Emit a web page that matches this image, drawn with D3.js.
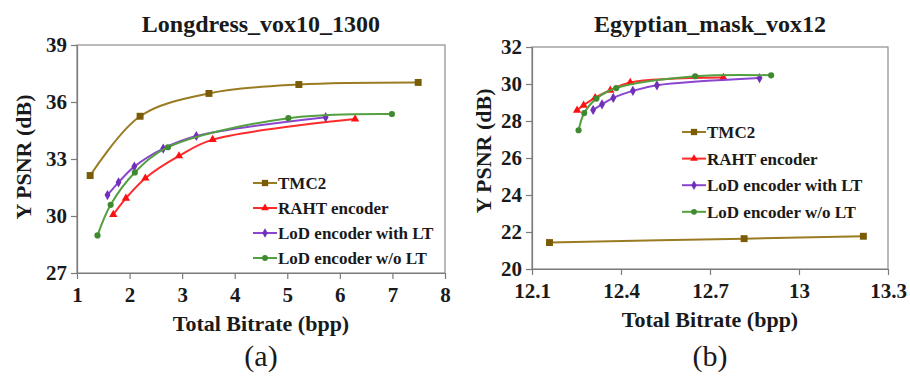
<!DOCTYPE html>
<html>
<head>
<meta charset="utf-8">
<script src="https://cdn.jsdelivr.net/npm/d3@7"></script>
<style>
	body { margin: 0; background: #fff; }
</style>
</head>
<body>
<div id="chart"></div>
<script>
const FONT = "'Liberation Serif', 'DejaVu Serif', 'Times New Roman', Tinos, serif";
const SERIES = ["TMC2", "RAHT encoder", "LoD encoder with LT", "LoD encoder w/o LT"];
const LINE_COLORS = ["#9a7b22", "#ff2a2a", "#8a46d0", "#54a040"];
const MARK_COLORS = ["#7a5c06", "#ff1010", "#7030b8", "#3f8a30"];
const SYMBOLS = [d3.symbolSquare, d3.symbolTriangle, d3.symbolDiamond, d3.symbolCircle];

// (a) Longdress_vox10_1300
const LONG_TMC2 = [[1.25, 32.13], [2.20, 35.25], [3.51, 36.45], [5.22, 36.92], [7.49, 37.03]];
const LONG_RAHT = [[1.69, 30.08], [1.93, 30.93], [2.30, 31.99], [2.94, 33.16], [3.58, 34.02], [6.29, 35.10]];
const LONG_LOD_LT = [[1.58, 31.10], [1.79, 31.77], [2.09, 32.60], [2.64, 33.55], [3.27, 34.21], [5.73, 35.20]];
const LONG_LOD_NOLT = [[1.39, 28.98], [1.64, 30.59], [2.10, 32.29], [2.73, 33.62], [5.02, 35.15], [6.99, 35.37]];
const LONG_XTICKS = [1, 2, 3, 4, 5, 6, 7, 8];
const LONG_YTICKS = [27, 30, 33, 36, 39];

// (b) Egyptian_mask_vox12
const MASK_TMC2 = [[12.159, 21.43], [12.815, 21.64], [13.217, 21.77]];
const MASK_RAHT = [[12.252, 28.58], [12.274, 28.85], [12.313, 29.26], [12.364, 29.66], [12.431, 30.08], [12.745, 30.35]];
const MASK_LOD_LT = [[12.306, 28.60], [12.336, 28.90], [12.374, 29.25], [12.440, 29.63], [12.521, 29.93], [12.867, 30.32]];
const MASK_LOD_NOLT = [[12.257, 27.50], [12.276, 28.43], [12.317, 29.21], [12.384, 29.78], [12.650, 30.42], [12.906, 30.47]];
const MASK_XTICKS = [12.1, 12.4, 12.7, 13, 13.3];
const MASK_YTICKS = [20, 22, 24, 26, 28, 30, 32];

var svg = d3.select("#chart").append("svg")
	.attr("width", 910)
	.attr("height", 378)
	.style("font-family", FONT);

function label(sel, size, bold) {
	return sel
		.style("font-family", FONT)
		.style("font-size", size + "px")
		.style("font-weight", bold ? "bold" : "normal")
		.attr("fill", "#1a1a1a");
}

function drawPanel(opt) {
	var x = d3.scaleLinear()
		.domain([opt.xticks[0], opt.xticks[opt.xticks.length - 1]])
		.range([opt.box.left, opt.box.right]);
	var y = d3.scaleLinear()
		.domain([opt.yticks[0], opt.yticks[opt.yticks.length - 1]])
		.range([opt.box.bottom, opt.box.top]);

	var g = svg.append("g");

	// plot frame
	g.append("rect")
		.attr("x", opt.box.left)
		.attr("y", opt.box.top)
		.attr("width", opt.box.right - opt.box.left)
		.attr("height", opt.box.bottom - opt.box.top)
		.attr("fill", "none")
		.attr("stroke", "#8c8c8c")
		.attr("stroke-width", 1.2);

	var xAxis = d3.axisBottom(x)
		.tickValues(opt.xticks)
		.tickFormat(d3.format("~g"))
		.tickSize(6)
		.tickSizeOuter(0);
	var yAxis = d3.axisLeft(y)
		.tickValues(opt.yticks)
		.tickSize(6)
		.tickSizeOuter(0);

	var gx = g.append("g")
		.attr("transform", "translate(0," + opt.box.bottom + ")")
		.call(xAxis);
	var gy = g.append("g")
		.attr("transform", "translate(" + opt.box.left + ",0)")
		.call(yAxis);

	[gx, gy].forEach(function(a) {
		a.attr("font-family", null);
		a.selectAll("path, line").attr("stroke", "#7a7a7a").attr("stroke-width", 1.2);
		label(a.selectAll("text"), 21, true);
	});
	gx.selectAll("text").attr("dy", "0.95em");
	gy.selectAll("text").attr("x", -10);

	// lines and markers
	var line = d3.line()
		.x(function(d) { return x(d[0]); })
		.y(function(d) { return y(d[1]); })
		.curve(d3.curveCatmullRom.alpha(0.5));

	opt.data.forEach(function(pts, i) {
		g.append("path")
			.datum(pts)
			.attr("d", line)
			.attr("fill", "none")
			.attr("stroke", LINE_COLORS[i])
			.attr("stroke-width", 2);

		g.selectAll(".m" + i)
			.data(pts)
			.enter().append("path")
			.attr("class", "m" + i)
			.attr("transform", function(d) { return "translate(" + x(d[0]) + "," + y(d[1]) + ")"; })
			.attr("d", d3.symbol().type(SYMBOLS[i]).size(i === 0 ? 48 : 30))
			.attr("fill", MARK_COLORS[i]);
	});

	// legend
	var lg = g.append("g")
		.attr("transform", "translate(" + opt.legend.x + "," + opt.legend.y + ")");
	SERIES.forEach(function(name, i) {
		var row = lg.append("g").attr("transform", "translate(0," + (i * opt.legend.step) + ")");
		row.append("line")
			.attr("x1", 0).attr("x2", 24)
			.attr("stroke", LINE_COLORS[i])
			.attr("stroke-width", 2);
		row.append("path")
			.attr("transform", "translate(12,0)")
			.attr("d", d3.symbol().type(SYMBOLS[i]).size(i === 0 ? 40 : 26))
			.attr("fill", MARK_COLORS[i]);
		label(row.append("text"), 17, true)
			.attr("x", 25)
			.attr("dy", "0.35em")
			.text(name);
	});

	var cx = (opt.box.left + opt.box.right) / 2;

	// title
	label(g.append("text"), 24, true)
		.attr("x", cx)
		.attr("y", 32)
		.attr("text-anchor", "middle")
		.text(opt.title);

	// axis labels
	label(g.append("text"), 22, true)
		.attr("x", cx)
		.attr("y", opt.xlabelY)
		.attr("text-anchor", "middle")
		.text("Total Bitrate (bpp)");

	label(g.append("text"), 22, true)
		.attr("transform", "translate(" + opt.ylabelX + "," + opt.ylabelCY + ") rotate(-90)")
		.attr("text-anchor", "middle")
		.text("Y PSNR (dB)");

	// panel caption
	label(g.append("text"), 30, false)
		.attr("x", cx)
		.attr("y", 366)
		.attr("text-anchor", "middle")
		.text(opt.caption);
}

drawPanel({
	title: "Longdress_vox10_1300",
	caption: "(a)",
	box: { left: 77, right: 445, top: 45, bottom: 273 },
	xticks: LONG_XTICKS,
	yticks: LONG_YTICKS,
	data: [LONG_TMC2, LONG_RAHT, LONG_LOD_LT, LONG_LOD_NOLT],
	legend: { x: 253, y: 183, step: 25 },
	xlabelY: 331,
	ylabelX: 31,
	ylabelCY: 157
});

drawPanel({
	title: "Egyptian_mask_vox12",
	caption: "(b)",
	box: { left: 532, right: 888, top: 47, bottom: 269 },
	xticks: MASK_XTICKS,
	yticks: MASK_YTICKS,
	data: [MASK_TMC2, MASK_RAHT, MASK_LOD_LT, MASK_LOD_NOLT],
	legend: { x: 682, y: 132, step: 26.6 },
	xlabelY: 327,
	ylabelX: 491,
	ylabelCY: 151
});
</script>
</body>
</html>
